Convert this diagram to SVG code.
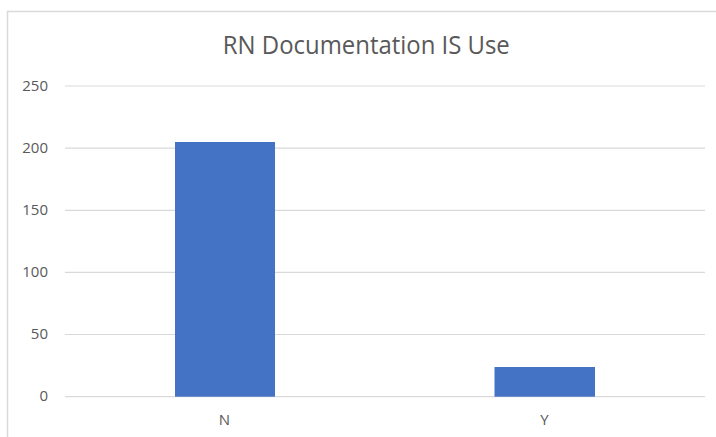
<svg xmlns="http://www.w3.org/2000/svg" width="716" height="437" viewBox="0 0 716 437">
<style>
.axis{font-family:"Open Sans","Liberation Sans",sans-serif;font-size:15px;fill:#595959}
.grid{stroke:#d9d9d9;stroke-width:1.2}
.bar{fill:#4472c4}
</style>
<rect x="0" y="0" width="716" height="437" fill="#ffffff"/>
<rect x="7.5" y="11.5" width="720" height="440" fill="#ffffff" stroke="#d9d9d9" stroke-width="1.5"/>
<text x="366.3" y="53.5" text-anchor="middle" font-family="Open Sans, Liberation Sans, sans-serif" font-size="25" fill="#595959" textLength="287" lengthAdjust="spacingAndGlyphs">RN Documentation IS Use</text>
<g id="grid">
<line class="grid" x1="65" y1="86" x2="705" y2="86"/>
<line class="grid" x1="65" y1="148.2" x2="705" y2="148.2"/>
<line class="grid" x1="65" y1="210.4" x2="705" y2="210.4"/>
<line class="grid" x1="65" y1="272.4" x2="705" y2="272.4"/>
<line class="grid" x1="65" y1="334.5" x2="705" y2="334.5"/>
<line class="grid" x1="65" y1="396.7" x2="705" y2="396.7"/>
</g>
<g id="yaxis">
<text class="axis" x="48" y="91" text-anchor="end">250</text>
<text class="axis" x="48" y="153" text-anchor="end">200</text>
<text class="axis" x="48" y="215" text-anchor="end">150</text>
<text class="axis" x="48" y="277" text-anchor="end">100</text>
<text class="axis" x="48" y="339" text-anchor="end">50</text>
<text class="axis" x="48" y="401" text-anchor="end">0</text>
</g>
<g id="bar-N">
<rect class="bar" x="175" y="142" width="100" height="254.7"/>
<text class="axis" x="224.5" y="425" text-anchor="middle">N</text>
</g>
<g id="bar-Y">
<rect class="bar" x="494.5" y="367" width="100.5" height="29.7"/>
<text class="axis" x="544.5" y="425" text-anchor="middle">Y</text>
</g>
</svg>
